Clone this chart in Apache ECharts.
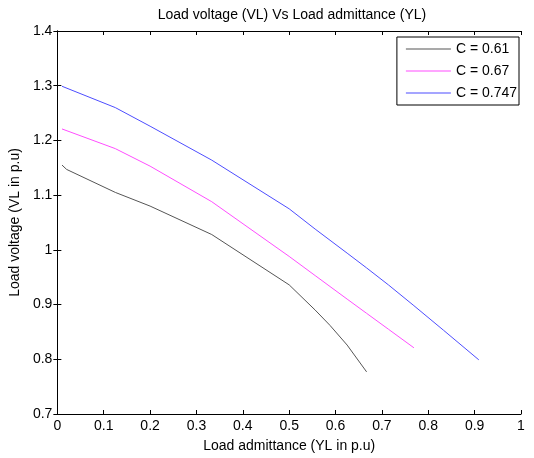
<!DOCTYPE html>
<html>
<head>
<meta charset="utf-8">
<script src="https://cdn.jsdelivr.net/npm/echarts@6/dist/echarts.min.js"></script>
<style>
	html,body{margin:0;padding:0;background:#fff;}
	#main{width:534px;height:458px;}
</style>
</head>
<body>
<div id="main"></div>
<script>
// load admittance (x) and load voltage (y) for each capacitance
var xC061 = [0.01, 0.02, 0.125, 0.2, 0.333, 0.5, 0.556, 0.588, 0.625, 0.667];
var yC061 = [1.155, 1.147, 1.105, 1.080, 1.028, 0.936, 0.890, 0.862, 0.826, 0.777];
var xC067 = [0.01, 0.125, 0.2, 0.333, 0.5, 0.556, 0.625, 0.667, 0.714, 0.769];
var yC067 = [1.221, 1.185, 1.153, 1.088, 0.988, 0.953, 0.910, 0.884, 0.855, 0.821];
var xC0747 = [0.01, 0.125, 0.2, 0.333, 0.5, 0.556, 0.625, 0.667, 0.714, 0.769, 0.833, 0.909];
var yC0747 = [1.299, 1.260, 1.226, 1.164, 1.075, 1.038, 0.994, 0.967, 0.936, 0.898, 0.853, 0.799];
var seriesNames = ['C = 0.61', 'C = 0.67', 'C = 0.747'];

function pairs(xs, ys){
	return xs.map(function(x, i){ return [x, ys[i]]; });
}

var font = 'Liberation Sans, Arial, sans-serif';
var chart = echarts.init(document.getElementById('main'));

function lineSeries(name, data, color){
	return {
		name: name,
		type: 'line',
		data: data,
		showSymbol: false,
		symbol: 'none',
		lineStyle: {color: color, width: 1},
		itemStyle: {color: color}
	};
}

function fmt(v){ return String(+v.toFixed(1)); }

var tick = {inside: true, length: 4, lineStyle: {color: '#000'}};
var line = {lineStyle: {color: '#000', width: 1}};

var option = {
	animation: false,
	title: {
		text: 'Load voltage (VL) Vs Load admittance (YL)',
		left: 287, top: 3, textAlign: 'center',
		textStyle: {fontFamily: font, fontSize: 14, fontWeight: 'normal', color: '#000'}
	},
	legend: {
		orient: 'vertical',
		right: 15, top: 37,
		data: seriesNames,
		itemWidth: 45, itemHeight: 1, itemGap: 8,
		icon: 'rect',
		borderColor: '#000', borderWidth: 1, borderRadius: 0,
		padding: [5, 2, 5, 9],
		backgroundColor: '#fff',
		textStyle: {fontFamily: font, fontSize: 14, color: '#000'}
	},
	grid: {left: 54, right: 13, top: 31, bottom: 44},
	xAxis: [{
		type: 'value', min: 0, max: 1, interval: 0.1,
		name: 'Load admittance (YL in p.u)', nameLocation: 'middle', nameGap: 25,
		nameTextStyle: {fontFamily: font, fontSize: 14, color: '#000'},
		axisLine: line, axisTick: tick,
		axisLabel: {fontFamily: font, fontSize: 14, color: '#000', margin: 5, formatter: fmt},
		splitLine: {show: false}
	}, {
		type: 'value', min: 0, max: 1, interval: 0.1, position: 'top',
		axisLine: line, axisTick: tick,
		axisLabel: {show: false}, splitLine: {show: false}
	}],
	yAxis: [{
		type: 'value', min: 0.7, max: 1.4, interval: 0.1,
		name: 'Load voltage (VL in p.u)', nameLocation: 'middle', nameGap: 35,
		nameTextStyle: {fontFamily: font, fontSize: 14, color: '#000'},
		axisLine: line, axisTick: tick,
		axisLabel: {fontFamily: font, fontSize: 14, color: '#000', margin: 5, formatter: fmt},
		splitLine: {show: false}
	}, {
		type: 'value', min: 0.7, max: 1.4, interval: 0.1, position: 'right',
		axisLine: line, axisTick: tick,
		axisLabel: {show: false}, splitLine: {show: false}
	}],
	series: [
		lineSeries(seriesNames[0], pairs(xC061, yC061), '#555555'),
		lineSeries(seriesNames[1], pairs(xC067, yC067), '#ff4dff'),
		lineSeries(seriesNames[2], pairs(xC0747, yC0747), '#4d4dff')
	]
};
chart.setOption(option);
</script>
</body>
</html>
